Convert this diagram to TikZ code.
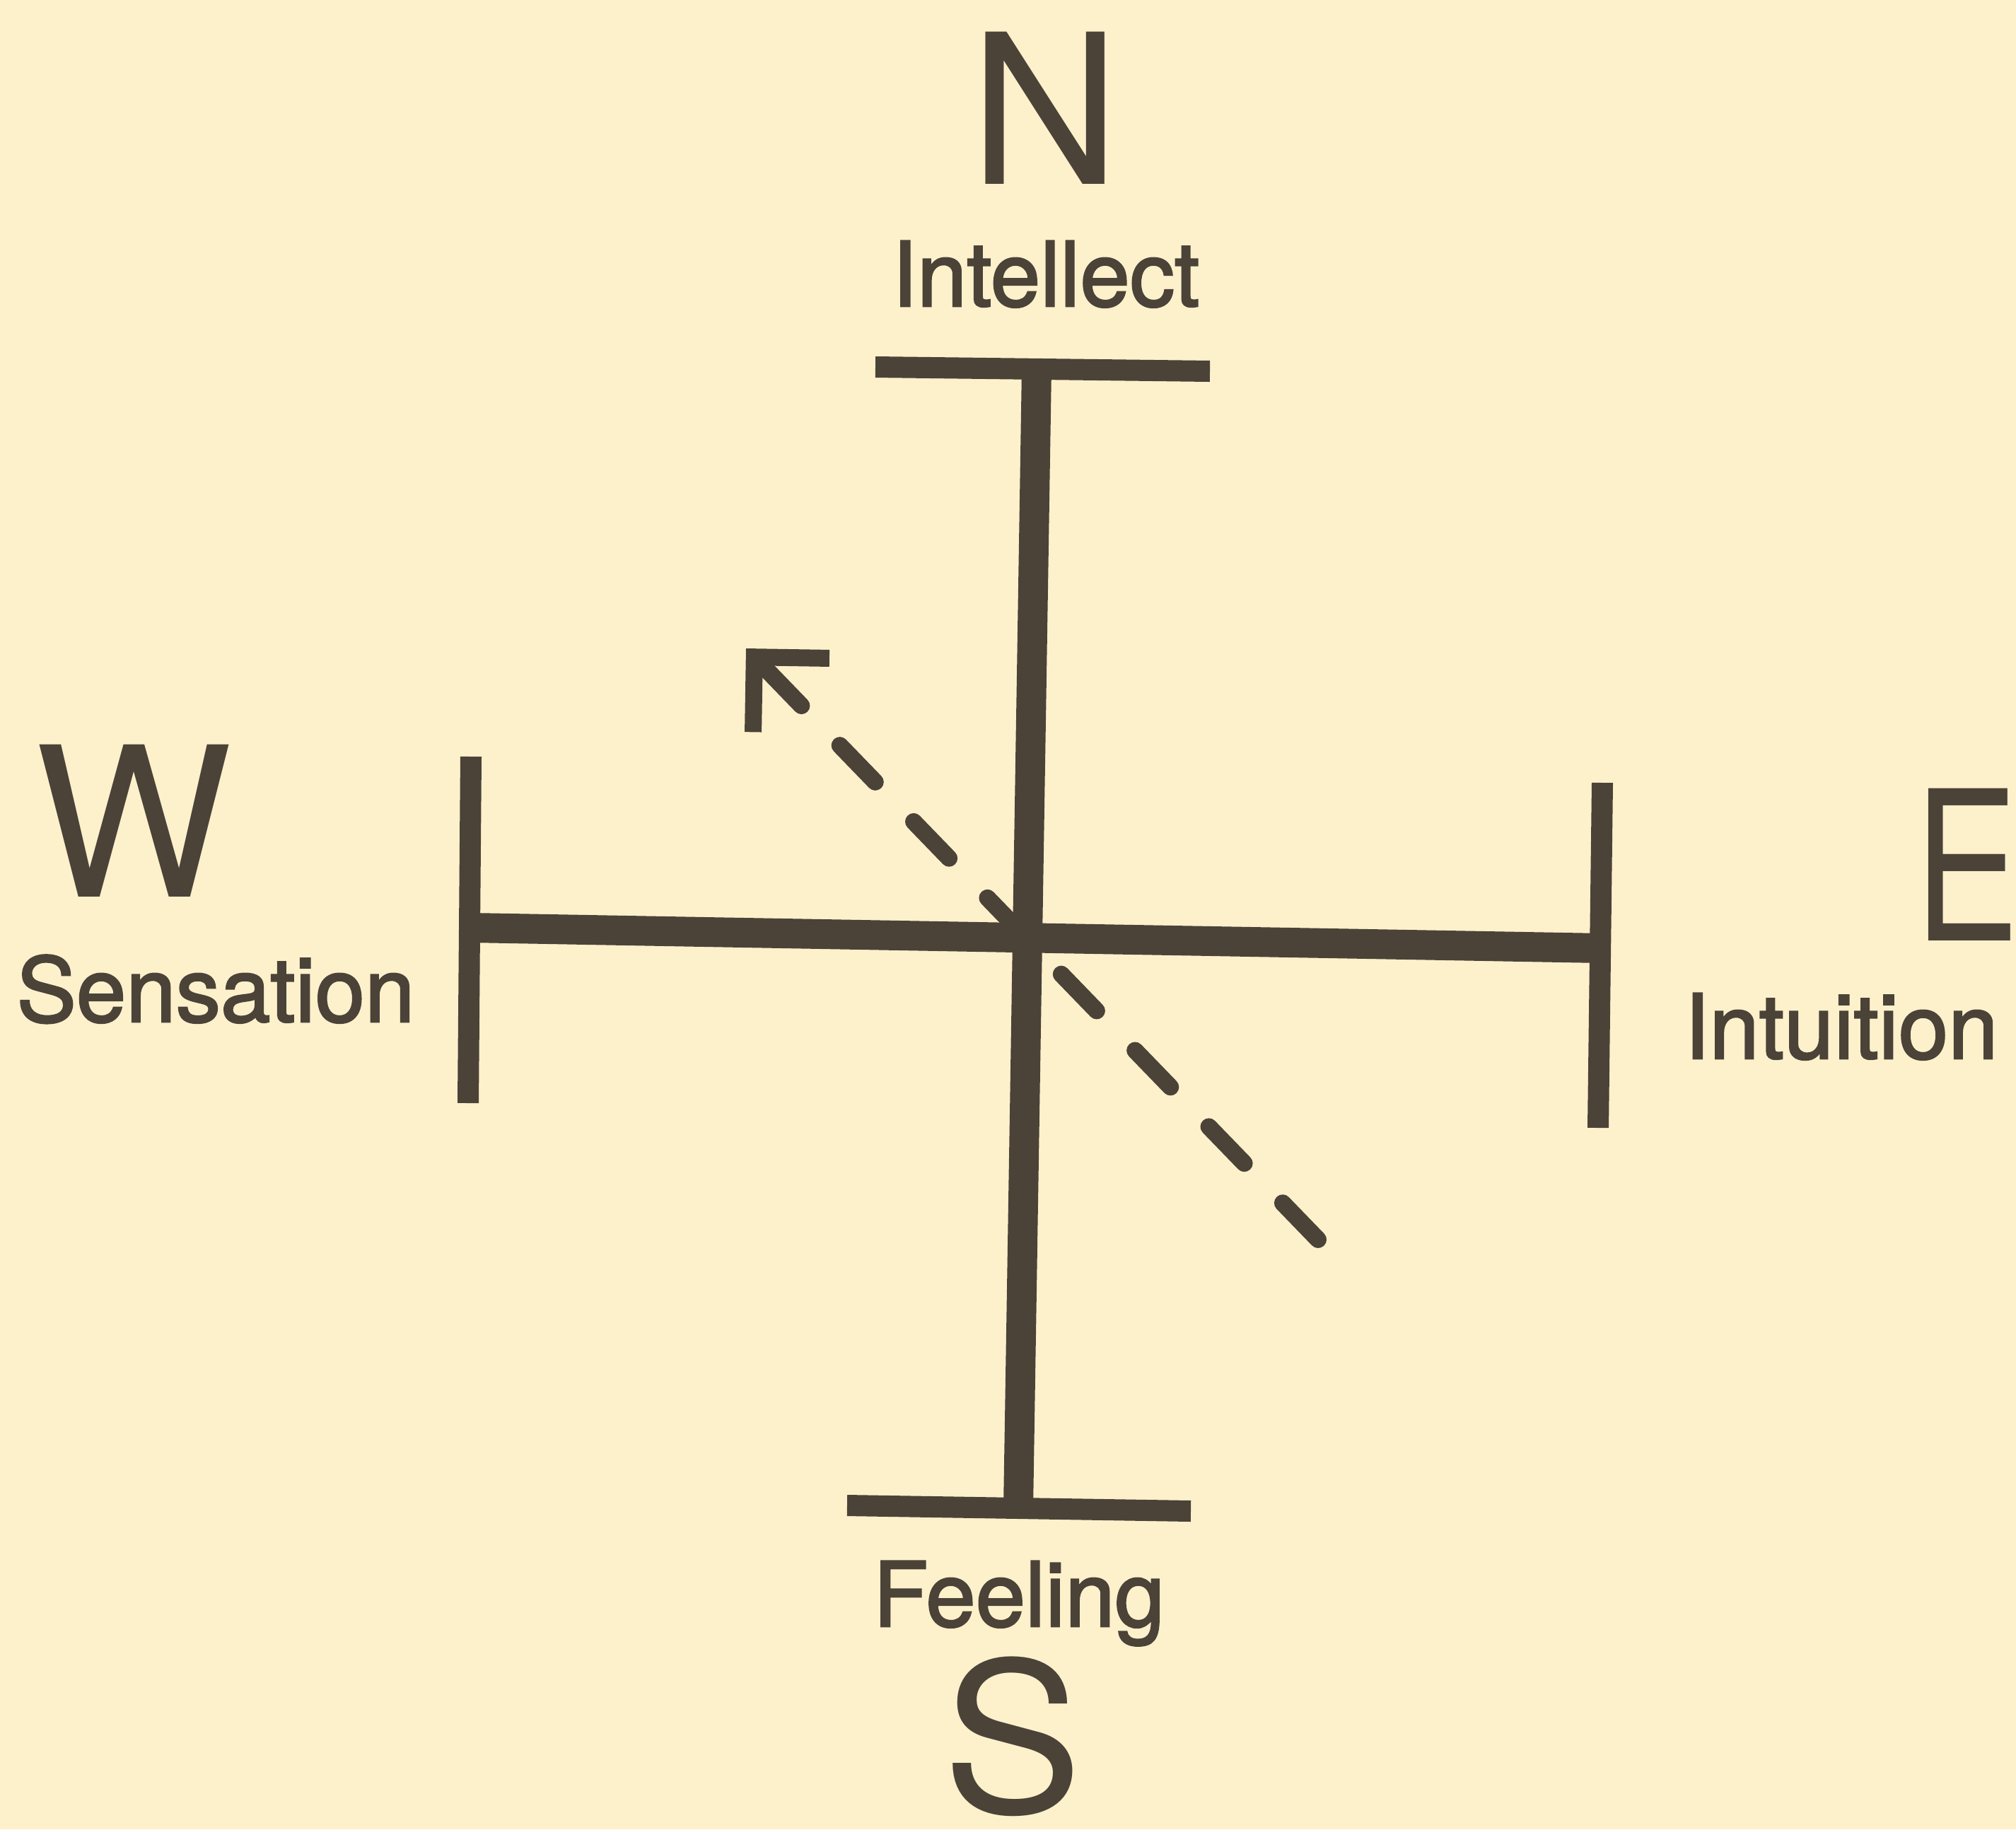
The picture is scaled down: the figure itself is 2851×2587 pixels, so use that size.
\documentclass[tikz,border=0pt]{standalone}
\usepackage{fontspec}
\setmainfont{TeX Gyre Heros}
\newfontfamily\labelfont[FakeBold=2]{TeX Gyre Heros}
\usetikzlibrary{arrows.meta}
\definecolor{PaperCream}{HTML}{FDF1CC}
\definecolor{InkBrown}{HTML}{4B4238}

\begin{document}
\begin{tikzpicture}[x=0.01cm,y=-0.01cm,
  crossline/.style={InkBrown,line width=0.42cm},
  endbar/.style={InkBrown,line width=0.30cm},
  pointlabel/.style={InkBrown,inner sep=0pt,anchor=base,font=\fontsize{84}{84}\selectfont},
  funclabel/.style={InkBrown,inner sep=0pt,anchor=base,font=\labelfont\fontsize{36}{36}\selectfont}]
  \fill[PaperCream] (0,0) rectangle (2851,2587);
  \useasboundingbox (0,0) rectangle (2851,2587);
  \coordinate (north) at (1466,521);
  \coordinate (south) at (1440,2134);
  \coordinate (west) at (666,1312);
  \coordinate (east) at (2266,1341);
  \coordinate (tail) at (1864,1753);
  \coordinate (head) at (1055,917);
  \draw[crossline] (north) -- (south);
  \draw[crossline] (west) -- (east);
  \draw[endbar] (1238,519) -- (1711,525);
  \draw[endbar] (1198,2129) -- (1684,2137);
  \draw[endbar] (666,1070) -- (662,1560);
  \draw[endbar] (2266,1107) -- (2260,1595);
  \draw[InkBrown,line width=0.24cm,line cap=round,dash pattern=on 0.72cm off 0.78cm,
    -{Straight Barb[length=7.5mm,width=15mm]}] (tail) -- (head);
  \node[pointlabel] (n) at (1478,260) {N};
  \node[funclabel] (intellect) at (1479,433) {Intellect};
  \node[pointlabel] (w) at (189,1268) {W};
  \node[funclabel] (sensation) at (305,1445) {Sensation};
  \node[pointlabel,xscale=0.75] (e) at (2781,1330) {E};
  \node[funclabel] (intuition) at (2604,1497) {Intuition};
  \node[funclabel] (feeling) at (1441,2300) {Feeling};
  \node[pointlabel] (s) at (1432,2563) {S};
\end{tikzpicture}
\end{document}
